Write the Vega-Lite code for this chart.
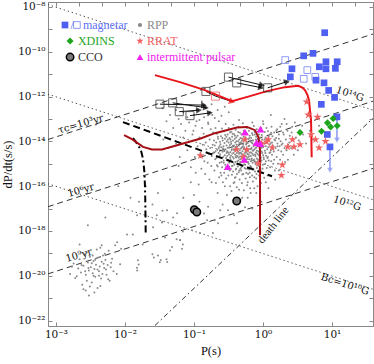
{
"$schema":"https://vega.github.io/schema/vega-lite/v6.json",
"width":325,"height":324,
"autosize":{"type":"none"},
"padding":{"left":48,"top":2,"right":1,"bottom":38},
"background":"white",
"config":{"view":{"stroke":"#888","strokeWidth":1},"font":"Liberation Serif",
 "axis":{"grid":false,"domainColor":"#888","tickColor":"#888","labelFont":"DejaVu Serif","labelFontSize":10.5,"labelColor":"#111","titleFont":"Liberation Serif","titleFontSize":12.5,"titleFontWeight":"normal","titleColor":"#111","tickSize":-4,"labelPadding":7}},
"datasets":{
"rpp":[
{"p":0.098,"d":3e-14},{"p":0.103,"d":2e-15},{"p":0.106,"d":4e-16},
{"p":0.109,"d":8e-14},{"p":0.113,"d":6e-15},{"p":0.117,"d":1.2e-16},
{"p":0.12,"d":1.5e-14},{"p":0.124,"d":3e-15},{"p":0.128,"d":6e-16},{"p":0.131,"d":4e-14},
{"p":0.134,"d":7e-15},{"p":0.138,"d":2.2e-14},{"p":0.141,"d":1.3e-15},{"p":0.145,"d":3.5e-16},{"p":0.148,"d":9e-15},
{"p":0.151,"d":4.5e-15},{"p":0.154,"d":1.8e-14},{"p":0.158,"d":1.1e-15},{"p":0.161,"d":6e-14},{"p":0.164,"d":2.8e-15},{"p":0.167,"d":2e-16},
{"p":0.169,"d":1.2e-14},{"p":0.172,"d":5e-15},{"p":0.175,"d":3.5e-14},{"p":0.178,"d":8e-16},{"p":0.181,"d":2.2e-15},{"p":0.184,"d":1.5e-13},{"p":0.187,"d":7e-15},
{"p":0.189,"d":2.5e-14},{"p":0.192,"d":3.2e-15},{"p":0.195,"d":1.1e-14},{"p":0.198,"d":5e-16},{"p":0.2,"d":6.5e-15},{"p":0.203,"d":1.6e-15},{"p":0.205,"d":4e-14},{"p":0.208,"d":1.4e-16},{"p":0.21,"d":9e-15},
{"p":0.212,"d":1.8e-15},{"p":0.215,"d":2.2e-14},{"p":0.218,"d":4.2e-15},{"p":0.221,"d":7.5e-16},{"p":0.224,"d":1.3e-14},{"p":0.227,"d":3e-15},{"p":0.229,"d":8e-14},{"p":0.231,"d":2.5e-16},{"p":0.234,"d":6e-15},{"p":0.236,"d":1.1e-15},
{"p":0.238,"d":9.5e-15},{"p":0.24,"d":2.6e-15},{"p":0.243,"d":4e-16},{"p":0.246,"d":1.7e-14},{"p":0.248,"d":5.5e-15},{"p":0.251,"d":1.2e-15},{"p":0.254,"d":3.8e-14},{"p":0.256,"d":7e-16},{"p":0.259,"d":3.4e-15},{"p":0.261,"d":1.1e-14},{"p":0.263,"d":1.5e-16},{"p":0.265,"d":2e-15},
{"p":0.267,"d":6e-15},{"p":0.269,"d":1.4e-15},{"p":0.272,"d":2.8e-14},{"p":0.274,"d":4e-16},{"p":0.277,"d":8.5e-15},{"p":0.279,"d":2.4e-15},{"p":0.281,"d":1.3e-14},{"p":0.284,"d":9e-16},{"p":0.286,"d":4.5e-15},{"p":0.288,"d":6e-14},{"p":0.291,"d":1.8e-15},{"p":0.293,"d":2.2e-16},{"p":0.295,"d":1.6e-14},{"p":0.297,"d":3e-15},
{"p":0.299,"d":1e-14},{"p":0.302,"d":3.6e-15},{"p":0.304,"d":7e-16},{"p":0.307,"d":2e-14},{"p":0.309,"d":5.2e-15},{"p":0.312,"d":1.5e-15},{"p":0.315,"d":3e-16},{"p":0.317,"d":9e-15},{"p":0.319,"d":4e-14},{"p":0.322,"d":2.6e-15},{"p":0.324,"d":1.1e-15},{"p":0.327,"d":1.4e-14},{"p":0.329,"d":5e-16},{"p":0.331,"d":6.8e-15},{"p":0.333,"d":1.9e-15},{"p":0.334,"d":1e-16},
{"p":0.336,"d":3.3e-15},{"p":0.338,"d":1.2e-14},{"p":0.341,"d":6e-16},{"p":0.343,"d":2.3e-15},{"p":0.346,"d":7.8e-15},{"p":0.348,"d":2.7e-14},{"p":0.35,"d":1.3e-15},{"p":0.353,"d":4.4e-15},{"p":0.355,"d":3.2e-16},{"p":0.357,"d":1.6e-14},{"p":0.36,"d":8e-16},{"p":0.362,"d":5.7e-15},{"p":0.365,"d":2e-15},{"p":0.367,"d":1.1e-14},{"p":0.369,"d":4.5e-16},{"p":0.371,"d":3e-15},{"p":0.373,"d":5.5e-14},{"p":0.375,"d":1.4e-16},
{"p":0.377,"d":1.7e-15},{"p":0.379,"d":6.5e-15},{"p":0.382,"d":2.1e-14},{"p":0.384,"d":9e-16},{"p":0.387,"d":3.9e-15},{"p":0.389,"d":1.3e-14},{"p":0.392,"d":2.4e-16},{"p":0.394,"d":2.6e-15},{"p":0.397,"d":8.8e-15},{"p":0.399,"d":1.2e-15},{"p":0.402,"d":3.3e-14},{"p":0.404,"d":5.5e-16},{"p":0.407,"d":4.8e-15},{"p":0.409,"d":1.5e-14},{"p":0.412,"d":1.9e-15},{"p":0.414,"d":7e-15},{"p":0.417,"d":9e-17},{"p":0.419,"d":3.5e-16},{"p":0.421,"d":1e-15},
{"p":0.423,"d":5.8e-15},{"p":0.426,"d":2.2e-15},{"p":0.428,"d":1.8e-14},{"p":0.431,"d":7.5e-16},{"p":0.434,"d":3.4e-15},{"p":0.437,"d":1e-14},{"p":0.439,"d":1.4e-15},{"p":0.442,"d":4.5e-14},{"p":0.445,"d":4.2e-16},{"p":0.447,"d":6.3e-15},{"p":0.45,"d":2.8e-15},{"p":0.453,"d":1.2e-14},{"p":0.455,"d":9.5e-16},{"p":0.458,"d":2e-16},{"p":0.461,"d":4e-15},{"p":0.463,"d":2.4e-14},{"p":0.466,"d":1.6e-15},{"p":0.468,"d":7.8e-15},{"p":0.47,"d":6e-16},{"p":0.472,"d":2.5e-17},
{"p":0.474,"d":1.1e-15},{"p":0.477,"d":3.1e-15},{"p":0.48,"d":9.2e-15},{"p":0.483,"d":5e-16},{"p":0.486,"d":2.1e-14},{"p":0.489,"d":1.8e-15},{"p":0.492,"d":5.3e-15},{"p":0.495,"d":1.4e-16},{"p":0.498,"d":1.3e-14},{"p":0.501,"d":8e-16},{"p":0.504,"d":3.6e-15},{"p":0.507,"d":2.5e-15},{"p":0.51,"d":6.5e-14},{"p":0.513,"d":1.2e-15},{"p":0.516,"d":7e-15},{"p":0.519,"d":3.5e-16},{"p":0.522,"d":1.6e-14},{"p":0.525,"d":4.4e-15},{"p":0.528,"d":6.5e-17},{"p":0.53,"d":2e-15},
{"p":0.533,"d":5.5e-15},{"p":0.536,"d":1.5e-15},{"p":0.54,"d":1.1e-14},{"p":0.543,"d":6.5e-16},{"p":0.547,"d":3e-15},{"p":0.55,"d":2.5e-14},{"p":0.553,"d":9e-16},{"p":0.557,"d":4.2e-15},{"p":0.56,"d":2.2e-16},{"p":0.563,"d":1.5e-14},{"p":0.567,"d":2.1e-15},{"p":0.57,"d":7.2e-15},{"p":0.573,"d":4e-16},{"p":0.577,"d":3.3e-15},{"p":0.58,"d":1.2e-15},{"p":0.583,"d":9e-15},{"p":0.587,"d":4e-14},{"p":0.59,"d":1.1e-16},{"p":0.593,"d":2.7e-15},{"p":0.595,"d":6e-16},
{"p":0.598,"d":1.9e-15},{"p":0.602,"d":8.5e-15},{"p":0.606,"d":3.5e-16},{"p":0.61,"d":3.9e-15},{"p":0.614,"d":1.2e-14},{"p":0.618,"d":1e-15},{"p":0.622,"d":2.6e-15},{"p":0.626,"d":3e-14},{"p":0.63,"d":5.5e-16},{"p":0.634,"d":6.4e-15},{"p":0.638,"d":1.6e-15},{"p":0.642,"d":1.8e-14},{"p":0.646,"d":2.5e-16},{"p":0.65,"d":4.6e-15},{"p":0.654,"d":8e-16},{"p":0.658,"d":9.5e-15},{"p":0.662,"d":5e-17},{"p":0.665,"d":2.2e-15},{"p":0.667,"d":1.3e-15},
{"p":0.671,"d":3.2e-15},{"p":0.675,"d":1.4e-14},{"p":0.68,"d":7e-16},{"p":0.684,"d":5.2e-15},{"p":0.689,"d":1.7e-15},{"p":0.693,"d":2.3e-14},{"p":0.698,"d":3e-16},{"p":0.702,"d":8e-15},{"p":0.707,"d":1.1e-15},{"p":0.711,"d":3.8e-15},{"p":0.716,"d":1.6e-16},{"p":0.72,"d":1.1e-14},{"p":0.725,"d":2.4e-15},{"p":0.729,"d":5.5e-16},{"p":0.734,"d":6e-15},{"p":0.738,"d":4.8e-14},{"p":0.743,"d":1.5e-15},{"p":0.747,"d":8e-17},
{"p":0.752,"d":4.5e-15},{"p":0.757,"d":1.3e-15},{"p":0.762,"d":2e-14},{"p":0.767,"d":4.5e-16},{"p":0.772,"d":7e-15},{"p":0.777,"d":2.2e-15},{"p":0.782,"d":9.5e-16},{"p":0.787,"d":1.2e-14},{"p":0.792,"d":3.2e-15},{"p":0.797,"d":2.2e-16},{"p":0.802,"d":5.5e-15},{"p":0.807,"d":1.7e-15},{"p":0.812,"d":3.5e-14},{"p":0.817,"d":6.5e-16},{"p":0.822,"d":9e-15},{"p":0.828,"d":2.8e-15},{"p":0.834,"d":1e-16},
{"p":0.843,"d":1.6e-15},{"p":0.849,"d":6e-15},{"p":0.855,"d":2.7e-14},{"p":0.861,"d":8e-16},{"p":0.867,"d":3.5e-15},{"p":0.873,"d":1.1e-14},{"p":0.879,"d":3e-16},{"p":0.885,"d":2.3e-15},{"p":0.891,"d":7.5e-15},{"p":0.897,"d":1.2e-15},{"p":0.903,"d":4.4e-15},{"p":0.909,"d":1.5e-14},{"p":0.915,"d":5e-16},{"p":0.922,"d":2e-15},{"p":0.93,"d":1.4e-16},
{"p":0.945,"d":5e-15},{"p":0.952,"d":1.4e-15},{"p":0.96,"d":1.9e-14},{"p":0.968,"d":4e-16},{"p":0.976,"d":3e-15},{"p":0.985,"d":8.5e-15},{"p":0.994,"d":9e-16},{"p":1.003,"d":2.4e-15},{"p":1.012,"d":6e-14},{"p":1.021,"d":6e-15},{"p":1.03,"d":1.6e-15},{"p":1.04,"d":2.4e-16},{"p":1.05,"d":1.2e-14},
{"p":1.065,"d":3.8e-15},{"p":1.077,"d":1e-15},{"p":1.089,"d":1.5e-14},{"p":1.1,"d":6e-15},{"p":1.11,"d":2.3e-15},{"p":1.122,"d":4e-14},{"p":1.134,"d":6.5e-16},{"p":1.146,"d":8.5e-15},{"p":1.158,"d":1.8e-15},{"p":1.17,"d":3e-16},{"p":1.183,"d":2.8e-14},
{"p":1.195,"d":5.5e-15},{"p":1.21,"d":1.4e-15},{"p":1.225,"d":1.1e-14},{"p":1.24,"d":3e-15},{"p":1.255,"d":2e-14},{"p":1.27,"d":7e-16},{"p":1.285,"d":8e-15},{"p":1.3,"d":4e-15},{"p":1.315,"d":1.3e-15},{"p":1.33,"d":4.5e-14},
{"p":1.35,"d":2.5e-15},{"p":1.37,"d":1.7e-14},{"p":1.39,"d":6.5e-15},{"p":1.41,"d":1e-15},{"p":1.43,"d":3.5e-15},{"p":1.45,"d":2.5e-14},{"p":1.47,"d":1.2e-14},{"p":1.49,"d":5e-16},
{"p":1.52,"d":5e-15},{"p":1.55,"d":1.4e-14},{"p":1.58,"d":2e-15},{"p":1.6,"d":3.5e-14},{"p":1.62,"d":8e-15},{"p":1.65,"d":1e-15},{"p":1.67,"d":4e-15},
{"p":1.7,"d":2e-14},{"p":1.74,"d":6e-15},{"p":1.77,"d":1.5e-15},{"p":1.8,"d":1e-14},{"p":1.84,"d":3.5e-15},{"p":1.87,"d":6e-14},
{"p":1.92,"d":8e-15},{"p":1.96,"d":2.5e-15},{"p":2.0,"d":2e-14},{"p":2.05,"d":5e-15},{"p":2.09,"d":1.2e-15},
{"p":2.15,"d":1.2e-14},{"p":2.2,"d":4e-15},{"p":2.26,"d":3e-14},{"p":2.32,"d":7e-15},
{"p":2.45,"d":1.8e-14},{"p":2.55,"d":5e-15},{"p":2.65,"d":4.5e-14},
{"p":3.0,"d":1.5e-14},{"p":3.2,"d":4e-15},{"p":3.4,"d":3e-14},
{"p":3.8,"d":2e-14},{"p":4.2,"d":8e-15},{"p":4.8,"d":3e-14},{"p":5.3,"d":1.2e-14},{"p":6.5,"d":5e-14},
{"p":0.205,"d":3.6e-15},{"p":0.215,"d":8.5e-16},{"p":0.222,"d":1.6e-14},{"p":0.228,"d":5e-15},{"p":0.235,"d":2.2e-15},{"p":0.242,"d":7.5e-15},{"p":0.25,"d":3e-16},{"p":0.258,"d":1.4e-14},{"p":0.262,"d":4.8e-15},{"p":0.27,"d":1.1e-15},{"p":0.276,"d":3.8e-15},{"p":0.283,"d":1.9e-14},{"p":0.29,"d":7e-16},{"p":0.296,"d":6.5e-15},{"p":0.303,"d":2.2e-15},{"p":0.31,"d":1.2e-14},{"p":0.316,"d":3.2e-15},{"p":0.321,"d":7.5e-16},{"p":0.326,"d":5.5e-15},{"p":0.332,"d":2.5e-14},{"p":0.339,"d":1.6e-15},{"p":0.344,"d":9.5e-15},{"p":0.351,"d":4e-15},{"p":0.356,"d":8e-16},{"p":0.363,"d":2.2e-14},{"p":0.368,"d":6.3e-15},{"p":0.374,"d":1.1e-15},{"p":0.38,"d":4.2e-15},{"p":0.386,"d":1.5e-16},{"p":0.391,"d":1.8e-14},{"p":0.396,"d":5.6e-15},{"p":0.403,"d":2e-15},{"p":0.408,"d":6e-16},{"p":0.413,"d":1e-14},{"p":0.418,"d":3e-15},{"p":0.425,"d":1.3e-15},{"p":0.43,"d":4.6e-15},{"p":0.436,"d":2.6e-14},{"p":0.441,"d":7e-15},{"p":0.446,"d":1.9e-15},{"p":0.452,"d":5e-16},{"p":0.457,"d":8.5e-15},{"p":0.462,"d":3.1e-15},{"p":0.467,"d":1.2e-15},{"p":0.473,"d":1.4e-14},{"p":0.479,"d":4.8e-15},{"p":0.485,"d":7e-16},{"p":0.49,"d":2.7e-15},{"p":0.497,"d":1.1e-14},{"p":0.503,"d":3.3e-16},{"p":0.509,"d":5.8e-15},{"p":0.515,"d":1.9e-15},{"p":0.52,"d":8e-15},{"p":0.527,"d":3e-14},{"p":0.534,"d":9.5e-16},{"p":0.541,"d":4.6e-15},{"p":0.548,"d":2.4e-15},{"p":0.555,"d":1.3e-14},{"p":0.562,"d":6e-16},{"p":0.569,"d":3.6e-15},{"p":0.576,"d":8.5e-15},{"p":0.584,"d":1.6e-15},{"p":0.591,"d":2.2e-14},{"p":0.6,"d":4.6e-15},{"p":0.608,"d":1.2e-15},{"p":0.616,"d":6e-15},{"p":0.624,"d":2.1e-15},{"p":0.632,"d":1.4e-14},{"p":0.64,"d":4e-16},{"p":0.648,"d":3.2e-15},{"p":0.656,"d":1.1e-14},{"p":0.664,"d":7e-16},{"p":0.673,"d":4.6e-15},{"p":0.682,"d":1.5e-15},{"p":0.691,"d":9e-15},{"p":0.7,"d":2.8e-15},{"p":0.709,"d":1.9e-14},{"p":0.718,"d":6e-16},{"p":0.727,"d":4e-15},{"p":0.737,"d":1.4e-15},{"p":0.746,"d":7.5e-15},{"p":0.756,"d":2.6e-14},{"p":0.766,"d":2.6e-15},{"p":0.776,"d":1.1e-15},{"p":0.786,"d":5e-15},{"p":0.796,"d":1.6e-14},{"p":0.806,"d":3.5e-16},{"p":0.817,"d":3.8e-15},{"p":0.828,"d":1.2e-14},{"p":0.839,"d":1.3e-15},{"p":0.85,"d":6.5e-15},{"p":0.862,"d":2.5e-15},{"p":0.875,"d":2e-14},{"p":0.887,"d":5.5e-16},{"p":0.9,"d":3.2e-15},{"p":0.913,"d":9.5e-15},{"p":0.926,"d":1.8e-15},{"p":0.94,"d":4e-14},{"p":0.955,"d":3.5e-15},{"p":0.97,"d":1.2e-14},{"p":0.985,"d":6e-16},{"p":1.0,"d":5.5e-15},{"p":1.02,"d":1.9e-15},{"p":1.04,"d":8e-15},{"p":1.06,"d":2.6e-14},{"p":1.08,"d":3e-15},{"p":1.1,"d":1.3e-15},{"p":1.12,"d":1.1e-14},{"p":1.15,"d":4.5e-15},{"p":1.18,"d":2e-15},{"p":1.21,"d":1.6e-14},{"p":1.24,"d":7e-15},{"p":1.28,"d":3.3e-15},{"p":1.31,"d":2.4e-14},{"p":1.35,"d":9e-15},{"p":1.4,"d":4.5e-15},{"p":1.45,"d":1.5e-15},{"p":1.5,"d":1.1e-14},{"p":1.56,"d":3e-14},{"p":1.62,"d":6e-15},{"p":1.7,"d":1.3e-14},{"p":1.78,"d":4.5e-14},{"p":1.86,"d":7e-15},{"p":1.95,"d":2.5e-14},{"p":2.05,"d":1e-13},{"p":2.2,"d":6e-14},{"p":2.4,"d":9e-15},{"p":2.6,"d":2.5e-14},{"p":2.9,"d":7e-14},{"p":3.3,"d":1.1e-14},{"p":3.7,"d":5e-14},{"p":1.3,"d":1.5e-13},{"p":1.0,"d":8e-14},{"p":0.7,"d":7e-14},{"p":0.45,"d":9e-14},{"p":0.6,"d":1.5e-16},{"p":0.8,"d":5e-17},{"p":1.1,"d":1.5e-16},{"p":0.35,"d":6e-17},{"p":0.5,"d":3e-17},{"p":0.95,"d":2e-17},{"p":0.4,"d":2.5e-16},{"p":0.65,"d":8e-17},{"p":0.28,"d":1e-16},{"p":0.18,"d":1.5e-16},{"p":0.75,"d":2.5e-16},{"p":1.3,"d":3e-16},{"p":1.7,"d":5e-16},{"p":2.3,"d":1.5e-15},{"p":2.8,"d":2.5e-15},{"p":0.22,"d":5e-17},
{"p":0.035,"d":3e-13},{"p":0.04,"d":8e-14},{"p":0.045,"d":1.5e-13},{"p":0.05,"d":4e-14},{"p":0.055,"d":2.5e-13},{"p":0.06,"d":1e-13},{"p":0.065,"d":6e-14},{"p":0.07,"d":2e-13},{"p":0.075,"d":3e-14},{"p":0.08,"d":1.2e-13},{"p":0.085,"d":7e-14},{"p":0.09,"d":4e-13},{"p":0.095,"d":2e-14},{"p":0.1,"d":1.5e-13},{"p":0.105,"d":5e-14},{"p":0.11,"d":2.5e-13},{"p":0.12,"d":9e-14},{"p":0.13,"d":6e-13},{"p":0.14,"d":1.2e-13},{"p":0.15,"d":3e-13},{"p":0.16,"d":7e-14},{"p":0.17,"d":2e-13},{"p":0.18,"d":4.5e-13},{"p":0.2,"d":1.1e-13},{"p":0.22,"d":2.5e-13},{"p":0.25,"d":1.4e-13},{"p":0.28,"d":3.5e-13},{"p":0.32,"d":2e-13},{"p":0.036,"d":1.2e-14},{"p":0.042,"d":5e-15},{"p":0.055,"d":8e-15},{"p":0.062,"d":2e-15},{"p":0.07,"d":1.5e-14},{"p":0.08,"d":4e-15},{"p":0.09,"d":7e-16},
{"p":0.0052,"d":4e-18},{"p":0.0029,"d":1.8e-18},{"p":0.0022,"d":2.5e-19},{"p":0.0046,"d":2.3e-19},{"p":0.0077,"d":3.1e-19},{"p":0.0088,"d":1.6e-19},{"p":0.0107,"d":7e-19},{"p":0.013,"d":7e-19},{"p":0.0154,"d":4.9e-20},{"p":0.0158,"d":3.2e-20},{"p":0.015,"d":1.7e-20},{"p":0.029,"d":5e-18},{"p":0.035,"d":2.6e-18},{"p":0.018,"d":2.5e-19},{"p":0.025,"d":9e-20},{"p":0.03,"d":8e-20},{"p":0.032,"d":4e-20},{"p":0.04,"d":5.5e-20},{"p":0.048,"d":1.9e-19},{"p":0.056,"d":4.3e-19},{"p":0.063,"d":3.9e-19},{"p":0.069,"d":2.5e-19},{"p":0.067,"d":1.6e-19},{"p":0.041,"d":4.1e-20},{"p":0.015,"d":5e-18},
{"p":0.0255,"d":1.45e-18},{"p":0.0344,"d":2.4e-18},{"p":0.0406,"d":8.3e-18},{"p":0.0568,"d":6.1e-18},{"p":0.038,"d":5.1e-19},{"p":0.045,"d":1.35e-19},{"p":0.0627,"d":3.8e-19},{"p":0.0262,"d":6.6e-20},{"p":0.033,"d":5e-20},{"p":0.0149,"d":2.3e-20},{"p":0.0935,"d":1.07e-18},{"p":0.122,"d":8e-19},{"p":0.188,"d":8e-19},{"p":0.223,"d":2.2e-18},{"p":0.311,"d":8.3e-18},{"p":0.42,"d":2.2e-18},{"p":0.548,"d":1.15e-17},{"p":0.24,"d":8.3e-18},{"p":0.155,"d":3e-18},{"p":0.069,"d":9.5e-19},
{"p":0.008,"d":1e-16},{"p":0.012,"d":3e-17},{"p":0.02,"d":1e-16},{"p":0.03,"d":5e-17},{"p":0.045,"d":2e-16},{"p":0.06,"d":8e-16},{"p":0.07,"d":3e-17},{"p":0.09,"d":1.5e-16},{"p":0.1,"d":4e-17},{"p":0.12,"d":2e-17},{"p":0.14,"d":6e-18},{"p":0.16,"d":1.2e-17},{"p":0.2,"d":3e-18},{"p":0.025,"d":1.5e-17},{"p":0.035,"d":8e-18},{"p":0.016,"d":2e-17},{"p":0.05,"d":4e-18},{"p":0.38,"d":5e-18},{"p":0.6,"d":3e-17},{"p":0.7,"d":1e-17},{"p":0.9,"d":4e-17},{"p":1.2,"d":8e-17},{"p":1.5,"d":2e-16},{"p":0.45,"d":7e-17},{"p":0.3,"d":4e-17},{"p":0.26,"d":1.5e-17},
{"p":0.0016,"d":1.2e-20},{"p":0.0018,"d":3.5e-20},{"p":0.0019,"d":8e-21},{"p":0.0021,"d":2.1e-20},{"p":0.0022,"d":5.5e-20},{"p":0.0023,"d":1.4e-20},{"p":0.0024,"d":4e-21},{"p":0.0025,"d":2.8e-20},{"p":0.0026,"d":9e-20},{"p":0.0027,"d":1.1e-20},{"p":0.0028,"d":6e-21},{"p":0.0029,"d":3.9e-20},{"p":0.003,"d":1.7e-20},{"p":0.0031,"d":7e-20},{"p":0.0032,"d":2.4e-20},{"p":0.0033,"d":5e-21},{"p":0.0034,"d":1.3e-20},{"p":0.0035,"d":4.6e-20},{"p":0.0036,"d":2e-20},{"p":0.0037,"d":9e-21},{"p":0.0038,"d":3.1e-20},{"p":0.0039,"d":1.5e-19},{"p":0.004,"d":1.9e-20},{"p":0.0041,"d":6.5e-20},{"p":0.0042,"d":1e-20},{"p":0.0043,"d":2.6e-20},{"p":0.0044,"d":3.5e-21},{"p":0.0046,"d":4.2e-20},{"p":0.0047,"d":1.2e-20},{"p":0.0048,"d":8e-20},{"p":0.005,"d":2.2e-20},{"p":0.0052,"d":5e-20},{"p":0.0054,"d":1.1e-20},{"p":0.0056,"d":3e-20},{"p":0.0058,"d":1.3e-19},{"p":0.006,"d":6e-21},{"p":0.0062,"d":2.4e-20},{"p":0.0065,"d":5.8e-20},{"p":0.0068,"d":1.6e-20},{"p":0.0072,"d":2.3e-19},{"p":0.002,"d":9.5e-21},{"p":0.00235,"d":3e-20},{"p":0.00265,"d":1.6e-20},{"p":0.00295,"d":2.2e-20},{"p":0.0031,"d":3.3e-21},{"p":0.0033,"d":3.6e-20},{"p":0.0035,"d":1e-20},{"p":0.0037,"d":5.2e-20},{"p":0.004,"d":2.8e-21},{"p":0.0042,"d":1.6e-20},{"p":0.0045,"d":7.5e-21},{"p":0.0049,"d":3.4e-20},{"p":0.0053,"d":1.9e-20},{"p":0.0057,"d":7e-21},{"p":0.0017,"d":2.5e-20},{"p":0.0028,"d":1.1e-19},{"p":0.0034,"d":8e-20},{"p":0.0044,"d":1.8e-19},{"p":0.0051,"d":9.5e-20},{"p":0.0063,"d":3.8e-20},{"p":0.0076,"d":1.2e-20},{"p":0.0085,"d":3.3e-20},{"p":0.0025,"d":2.5e-21},{"p":0.003,"d":1.3e-21},{"p":0.0036,"d":1.8e-21},{"p":0.0027,"d":2.2e-21}
],
"mag":[{"p":7.84,"d":7.1e-10},{"p":3.89,"d":6.6e-11},{"p":5.31,"d":8.5e-11},{"p":2.63,"d":1.74e-11},{"p":2.49,"d":7.6e-12},{"p":6.55,"d":2.14e-11},{"p":8.18,"d":3.58e-11},{"p":11.9,"d":3.58e-11},{"p":8.18,"d":1.74e-11},{"p":11.2,"d":1.82e-11},{"p":5.86,"d":5.4e-12},{"p":7.66,"d":4.1e-12},{"p":8.95,"d":1.88e-12},{"p":10.9,"d":9.2e-13},{"p":7.0,"d":4.5e-13},{"p":11.8,"d":1.24e-13},{"p":8.55,"d":2.03e-14},{"p":9.35,"d":5.65e-15}],
"magopen":[{"p":2.1,"d":4.27e-11},{"p":4.39,"d":1.52e-11},{"p":3.89,"d":6.2e-12},{"p":5.73,"d":7.6e-12}],
"xdins":[{"p":3.44,"d":2.49e-14},{"p":7.05,"d":2.84e-14},{"p":8.61,"d":6.7e-14},{"p":10.4,"d":1.05e-13},{"p":9.57,"d":4.4e-14},{"p":11.9,"d":5.0e-14}],
"cco":[{"p":0.101,"d":8.97e-18},{"p":0.11,"d":7.0e-18},{"p":0.416,"d":2.17e-17}],
"inter":[{"p":0.548,"d":2.57e-14},{"p":0.92,"d":3.5e-14},{"p":0.805,"d":8.7e-15},{"p":0.91,"d":7.9e-15},{"p":0.536,"d":1.55e-15},{"p":0.308,"d":7.4e-16}],
"rrat":[{"p":0.124,"d":2.29e-15},{"p":0.413,"d":4.3e-15},{"p":0.548,"d":1.21e-14},{"p":0.581,"d":4.3e-15},{"p":0.517,"d":2.02e-15},{"p":0.855,"d":1.02e-15},{"p":0.957,"d":8.0e-15},{"p":1.13,"d":9.5e-15},{"p":1.19,"d":1.21e-14},{"p":1.36,"d":5.3e-15},{"p":1.91,"d":8.9e-16},{"p":1.85,"d":3.07e-16},{"p":2.28,"d":5.65e-15},{"p":2.68,"d":1.21e-14},{"p":2.81,"d":5.65e-15},{"p":3.44,"d":7.2e-15},{"p":4.3,"d":5.8e-13},{"p":4.54,"d":1.52e-13},{"p":6.17,"d":1.2e-13},{"p":4.97,"d":2.03e-14},{"p":5.77,"d":1.21e-14},{"p":8.05,"d":9.96e-15},{"p":6.49,"d":5.2e-15}],
"trk":[{"p":0.0321,"d":4.59e-13},{"p":0.0491,"d":5.25e-13},{"p":0.0612,"d":2.12e-13},{"p":0.0875,"d":1.41e-13},{"p":0.149,"d":1.7e-12},{"p":0.316,"d":7.4e-12},{"p":0.416,"d":4.1e-12},{"p":1.17,"d":2.46e-12}],
"trkred":[{"p":0.205,"d":1.05e-12}],
"heads":[{"p":0.1396,"d":4.14e-13,"dir":1},{"p":0.149,"d":3.2e-13,"dir":8},{"p":0.118,"d":2.47e-13,"dir":-4},{"p":0.1706,"d":1.87e-13,"dir":-8},{"p":0.968,"d":3.25e-12,"dir":13},{"p":0.935,"d":2.51e-12,"dir":11},{"p":2.23,"d":4.65e-12,"dir":-18}],
"redhead":[{"p":0.356,"d":5.94e-13,"dir":18}],
"bluearr":[{"id":"u1","p":11.8,"d":1.24e-13},{"id":"u1","p":11.8,"d":1.13e-14},{"id":"u2","p":9.35,"d":5.65e-15},{"id":"u2","p":9.35,"d":5.1e-16}],
"bluehead":[{"p":11.8,"d":1.13e-14},{"p":9.35,"d":5.1e-16}],
"arrows":[
{"id":"a1","i":0,"p":0.0321,"d":4.59e-13},{"id":"a1","i":1,"p":0.1396,"d":4.14e-13},
{"id":"a2","i":0,"p":0.0491,"d":5.25e-13},{"id":"a2","i":1,"p":0.149,"d":3.2e-13},
{"id":"a3","i":0,"p":0.0612,"d":2.12e-13},{"id":"a3","i":1,"p":0.118,"d":2.47e-13},
{"id":"a4","i":0,"p":0.0875,"d":1.41e-13},{"id":"a4","i":1,"p":0.1706,"d":1.87e-13},
{"id":"a5","i":0,"p":0.316,"d":7.4e-12},{"id":"a5","i":1,"p":0.968,"d":3.25e-12},
{"id":"a6","i":0,"p":0.416,"d":4.1e-12},{"id":"a6","i":1,"p":0.935,"d":2.51e-12},
{"id":"a7","i":0,"p":1.17,"d":2.46e-12},{"id":"a7","i":1,"p":2.23,"d":4.65e-12},
{"id":"a8","i":0,"p":0.149,"d":1.7e-12},{"id":"a8","i":1,"p":0.205,"d":1.05e-12},{"id":"a8","i":2,"p":0.356,"d":5.94e-13}],
"thin":[
{"kind":"dot","id":"B14","i":0,"p":7.6e-4,"d":1.286e-8},{"kind":"dot","id":"B14","i":1,"p":40,"d":2.44e-13},
{"kind":"dot","id":"B12","i":0,"p":7.6e-4,"d":1.286e-12},{"kind":"dot","id":"B12","i":1,"p":40,"d":2.44e-17},
{"kind":"dot","id":"B10","i":0,"p":7.6e-4,"d":1.286e-16},{"kind":"dot","id":"B10","i":1,"p":40,"d":2.44e-21},
{"kind":"dash","id":"t3","i":0,"p":7.6e-4,"d":1.2e-14},{"kind":"dash","id":"t3","i":1,"p":40,"d":6.34e-10},
{"kind":"dash","id":"t6","i":0,"p":7.6e-4,"d":1.2e-17},{"kind":"dash","id":"t6","i":1,"p":40,"d":6.34e-13},
{"kind":"dash","id":"t9","i":0,"p":7.6e-4,"d":1.2e-20},{"kind":"dash","id":"t9","i":1,"p":40,"d":6.34e-16},
{"kind":"dd","id":"death","i":0,"p":0.0272,"d":6.0e-23},{"kind":"dd","id":"death","i":1,"p":39.3,"d":1.09e-13}],
"thick":[
{"kind":"kdash","id":"k1","i":0,"p":0.00935,"d":7.2e-14},{"kind":"kdash","id":"k1","i":1,"p":1.35,"d":2.77e-16},
{"kind":"kdd","id":"k2","i":0,"p":0.01306,"d":1.38e-14},{"kind":"kdd","id":"k2","i":1,"p":0.01542,"d":6.7e-15},{"kind":"kdd","id":"k2","i":2,"p":0.01745,"d":2.95e-15},{"kind":"kdd","id":"k2","i":3,"p":0.01854,"d":1.05e-15},{"kind":"kdd","id":"k2","i":4,"p":0.01918,"d":3.07e-16},{"kind":"kdd","id":"k2","i":5,"p":0.01968,"d":2.34e-17},{"kind":"kdd","id":"k2","i":6,"p":0.01995,"d":8.6e-19},
{"kind":"red","id":"r1","i":0,"p":0.0272,"d":9.1e-12},{"kind":"red","id":"r1","i":1,"p":0.0627,"d":4.43e-12},{"kind":"red","id":"r1","i":2,"p":0.144,"d":1.94e-12},{"kind":"red","id":"r1","i":3,"p":0.356,"d":6.25e-13},{"kind":"red","id":"r1","i":4,"p":0.648,"d":1.05e-12},{"kind":"red","id":"r1","i":5,"p":1.143,"d":1.75e-12},{"kind":"red","id":"r1","i":6,"p":2.08,"d":2.64e-12},{"kind":"red","id":"r1","i":7,"p":3.22,"d":3.02e-12},{"kind":"red","id":"r1","i":8,"p":3.67,"d":2.59e-12},{"kind":"red","id":"r1","i":9,"p":4.06,"d":1.94e-12},{"kind":"red","id":"r1","i":10,"p":4.42,"d":1.16e-12},{"kind":"red","id":"r1","i":11,"p":4.64,"d":6.93e-13},{"kind":"red","id":"r1","i":12,"p":4.97,"d":8.8e-14},{"kind":"red","id":"r1","i":13,"p":5.08,"d":1.96e-15},
{"kind":"dred","id":"r2","i":0,"p":0.00969,"d":1.88e-14},{"kind":"dred","id":"r2","i":1,"p":0.01262,"d":1.25e-14},{"kind":"dred","id":"r2","i":2,"p":0.01824,"d":5.65e-15},{"kind":"dred","id":"r2","i":3,"p":0.0246,"d":4.33e-15},{"kind":"dred","id":"r2","i":4,"p":0.0344,"d":4.33e-15},{"kind":"dred","id":"r2","i":5,"p":0.0568,"d":6.73e-15},{"kind":"dred","id":"r2","i":6,"p":0.122,"d":1.31e-14},{"kind":"dred","id":"r2","i":7,"p":0.201,"d":2.32e-14},{"kind":"dred","id":"r2","i":8,"p":0.42,"d":4.17e-14},{"kind":"dred","id":"r2","i":9,"p":0.586,"d":4.43e-14},{"kind":"dred","id":"r2","i":10,"p":0.766,"d":3.16e-14},{"kind":"dred","id":"r2","i":11,"p":0.861,"d":1.53e-14},{"kind":"dred","id":"r2","i":12,"p":0.906,"d":4.02e-15},{"kind":"dred","id":"r2","i":13,"p":0.906,"d":6.36e-19}],
"leg":[{"cls":"magnetar","p":1.35e-3,"d":1.57e-9},{"cls":"XDINS","p":1.6e-3,"d":3.01e-10},{"cls":"CCO","p":1.6e-3,"d":5.8e-11},{"cls":"RPP","p":0.01648,"d":1.57e-9},{"cls":"RRAT","p":0.01648,"d":3.01e-10},{"cls":"intermittent pulsar","p":0.01648,"d":5.8e-11}],
"legopen":[{"p":2.01e-3,"d":1.57e-9}],
"legt":[{"cls":"slash","t":"/","p":1.62e-3,"d":1.57e-9},{"cls":"magnetar","t":"magnetar","p":2.46e-3,"d":1.57e-9},{"cls":"XDINS","t":"XDINS","p":2.08e-3,"d":3.01e-10},{"cls":"CCO","t":"CCO","p":2.08e-3,"d":5.8e-11},{"cls":"RPP","t":"RPP","p":0.0208,"d":1.57e-9},{"cls":"RRAT","t":"RRAT","p":0.0208,"d":3.01e-10},{"cls":"intermittent pulsar","t":"intermittent pulsar","p":0.0208,"d":5.8e-11}],
"taulab":[{"t":"τc=10³yr","p":2.3e-3,"d":5.85e-14},{"t":"10⁶yr","p":2.3e-3,"d":6.55e-17},{"t":"10⁹yr","p":2.15e-3,"d":8.1e-20}],
"blab":[{"t":"10¹⁴G","p":18.2,"d":1.29e-12},{"t":"10¹²G","p":16.5,"d":1.71e-17},{"t":"Bc=10¹⁰G","p":15.4,"d":4.1e-21}],
"dlab":[{"t":"death line","p":1.42,"d":1.78e-18}]
},
"encoding":{
 "x":{"field":"p","type":"quantitative","scale":{"type":"log","domain":[7.66e-4,39.3],"nice":false,"zero":false},"axis":null},
 "y":{"field":"d","type":"quantitative","scale":{"type":"log","domain":[5.7e-23,1.67e-8],"nice":false,"zero":false},"axis":null}
},
"layer":[
 {"data":{"name":"thin"},"transform":[{"filter":"datum.kind=='dot'"}],"mark":{"type":"line","clip":true,"color":"#333","strokeWidth":1,"strokeDash":[1.2,3]},
  "encoding":{"detail":{"field":"id"},"order":{"field":"i","type":"quantitative"},
   "x":{"field":"p","type":"quantitative","scale":{"type":"log","domain":[7.66e-4,39.3],"nice":false,"zero":false},"axis":{"orient":"top","labels":false,"title":null,"values":[0.001,0.002154,0.004642,0.01,0.02154,0.04642,0.1,0.2154,0.4642,1,2.154,4.642,10,21.54]}},
   "y":{"field":"d","type":"quantitative","scale":{"type":"log","domain":[5.7e-23,1.67e-8],"nice":false,"zero":false},"axis":{"orient":"right","labels":false,"title":null,"values":[1e-22,1e-21,1e-20,1e-19,1e-18,1e-17,1e-16,1e-15,1e-14,1e-13,1e-12,1e-11,1e-10,1e-9,1e-8]}}}},
 {"data":{"name":"thin"},"transform":[{"filter":"datum.kind=='dash'"}],"mark":{"type":"line","clip":true,"color":"#333","strokeWidth":1,"strokeDash":[6,4]},
  "encoding":{"detail":{"field":"id"},"order":{"field":"i","type":"quantitative"}}},
 {"data":{"name":"thin"},"transform":[{"filter":"datum.kind=='dd'"}],"mark":{"type":"line","clip":true,"color":"#333","strokeWidth":1,"strokeDash":[5,3,1.5,3]},
  "encoding":{"detail":{"field":"id"},"order":{"field":"i","type":"quantitative"}}},
 {"data":{"name":"rpp"},"mark":{"type":"point","filled":true,"shape":"circle","size":4,"color":"#8a8a8a","opacity":1},
  "encoding":{
   "x":{"field":"p","type":"quantitative","scale":{"type":"log","domain":[7.66e-4,39.3],"nice":false,"zero":false},
    "axis":{"orient":"bottom","title":"P(s)","titlePadding":5,"titleFontWeight":"normal","values":[0.001,0.01,0.1,1,10],
     "labelExpr":"datum.value<0.005?'10⁻³':datum.value<0.05?'10⁻²':datum.value<0.5?'10⁻¹':datum.value<5?'10⁰':'10¹'"}},
   "y":{"field":"d","type":"quantitative","scale":{"type":"log","domain":[5.7e-23,1.67e-8],"nice":false,"zero":false},
    "axis":{"orient":"left","title":"dP/dt(s/s)","titlePadding":3,"titleFontWeight":"normal",
     "values":[1e-22,1e-21,1e-20,1e-19,1e-18,1e-17,1e-16,1e-15,1e-14,1e-13,1e-12,1e-11,1e-10,1e-9,1e-8],
     "labelExpr":"datum.value<3e-22?'10⁻²²':datum.value<3e-21?'':datum.value<3e-20?'10⁻²⁰':datum.value<3e-19?'':datum.value<3e-18?'10⁻¹⁸':datum.value<3e-17?'':datum.value<3e-16?'10⁻¹⁶':datum.value<3e-15?'':datum.value<3e-14?'10⁻¹⁴':datum.value<3e-13?'':datum.value<3e-12?'10⁻¹²':datum.value<3e-11?'':datum.value<3e-10?'10⁻¹⁰':datum.value<3e-9?'':'10⁻⁸'"}}}},
 {"data":{"name":"thick"},"transform":[{"filter":"datum.kind=='kdash'"}],"mark":{"type":"line","clip":true,"color":"#000","strokeWidth":2,"strokeDash":[7,4]},
  "encoding":{"detail":{"field":"id"},"order":{"field":"i","type":"quantitative"}}},
 {"data":{"name":"thick"},"transform":[{"filter":"datum.kind=='kdd'"}],"mark":{"type":"line","clip":true,"color":"#000","strokeWidth":2,"strokeDash":[7,3,2,3],"interpolate":"monotone"},
  "encoding":{"detail":{"field":"id"},"order":{"field":"i","type":"quantitative"}}},
 {"data":{"name":"thick"},"transform":[{"filter":"datum.kind=='dred'"}],"mark":{"type":"line","clip":true,"color":"#a50f15","strokeWidth":2},
  "encoding":{"detail":{"field":"id"},"order":{"field":"i","type":"quantitative"}}},
 {"data":{"name":"arrows"},"mark":{"type":"line","color":"#111","strokeWidth":1},
  "encoding":{"detail":{"field":"id"},"order":{"field":"i","type":"quantitative"}}},
 {"data":{"name":"heads"},"mark":{"type":"point","shape":"triangle-right","filled":true,"color":"#000","size":45},
  "encoding":{"angle":{"field":"dir","type":"quantitative","scale":null}}},
 {"data":{"name":"thick"},"transform":[{"filter":"datum.kind=='red'"}],"mark":{"type":"line","clip":true,"color":"#e8141a","strokeWidth":2},
  "encoding":{"detail":{"field":"id"},"order":{"field":"i","type":"quantitative"}}},
 {"data":{"name":"redhead"},"mark":{"type":"point","shape":"triangle-right","filled":true,"color":"#e8141a","size":50},
  "encoding":{"angle":{"field":"dir","type":"quantitative","scale":null}}},
 {"data":{"name":"trk"},"mark":{"type":"point","shape":"square","filled":false,"color":"#222","strokeWidth":1,"size":65}},
 {"data":{"name":"trkred"},"mark":{"type":"point","shape":"square","filled":false,"color":"#f05050","strokeWidth":1,"size":65}},
 {"data":{"name":"bluearr"},"mark":{"type":"line","color":"#8b97f2","strokeWidth":1.5},
  "encoding":{"detail":{"field":"id"}}},
 {"data":{"name":"bluehead"},"mark":{"type":"point","shape":"triangle-down","filled":true,"color":"#8b97f2","size":35}},
 {"data":{"name":"mag"},"mark":{"type":"point","shape":"square","filled":true,"color":"#4f5ff2","opacity":1,"size":45}},
 {"data":{"name":"magopen"},"mark":{"type":"point","shape":"square","filled":false,"color":"#6070f2","strokeWidth":1,"size":45}},
 {"data":{"name":"xdins"},"mark":{"type":"point","shape":"diamond","filled":true,"color":"#1ea51e","opacity":1,"size":50}},
 {"data":{"name":"rrat"},"mark":{"type":"point","shape":"M0,-1L0.2245,-0.309L0.951,-0.309L0.363,0.118L0.588,0.809L0,0.382L-0.588,0.809L-0.363,0.118L-0.951,-0.309L-0.2245,-0.309Z","filled":true,"color":"#f06262","opacity":1,"size":75}},
 {"data":{"name":"inter"},"mark":{"type":"point","shape":"triangle-up","filled":true,"color":"#f020f0","opacity":1,"size":60}},
 {"data":{"name":"cco"},"mark":{"type":"point","shape":"circle","filled":true,"fill":"#7a7a7a","stroke":"#000","strokeWidth":1.5,"opacity":1,"size":55}},
 {"data":{"name":"leg"},"transform":[{"filter":"datum.cls=='magnetar'"}],"mark":{"type":"point","shape":"square","filled":true,"color":"#4f5ff2","opacity":1,"size":45}},
 {"data":{"name":"legopen"},"mark":{"type":"point","shape":"square","filled":false,"color":"#6070f2","strokeWidth":1,"size":45}},
 {"data":{"name":"leg"},"transform":[{"filter":"datum.cls=='XDINS'"}],"mark":{"type":"point","shape":"diamond","filled":true,"color":"#1ea51e","opacity":1,"size":50}},
 {"data":{"name":"leg"},"transform":[{"filter":"datum.cls=='CCO'"}],"mark":{"type":"point","shape":"circle","filled":true,"fill":"#7a7a7a","stroke":"#000","strokeWidth":1.5,"opacity":1,"size":55}},
 {"data":{"name":"leg"},"transform":[{"filter":"datum.cls=='RPP'"}],"mark":{"type":"point","shape":"circle","filled":true,"color":"#8a8a8a","opacity":1,"size":18}},
 {"data":{"name":"leg"},"transform":[{"filter":"datum.cls=='RRAT'"}],"mark":{"type":"point","shape":"M0,-1L0.2245,-0.309L0.951,-0.309L0.363,0.118L0.588,0.809L0,0.382L-0.588,0.809L-0.363,0.118L-0.951,-0.309L-0.2245,-0.309Z","filled":true,"color":"#f06262","opacity":1,"size":60}},
 {"data":{"name":"leg"},"transform":[{"filter":"datum.cls=='intermittent pulsar'"}],"mark":{"type":"point","shape":"triangle-up","filled":true,"color":"#f020f0","opacity":1,"size":45}},
 {"data":{"name":"legt"},"mark":{"type":"text","align":"left","baseline":"middle","font":"Liberation Serif","fontSize":12},
  "encoding":{"text":{"field":"t"},"color":{"field":"cls","type":"nominal","legend":null,
   "scale":{"domain":["slash","magnetar","XDINS","CCO","RPP","RRAT","intermittent pulsar"],"range":["#6070f2","#6070f2","#1ea51e","#333333","#8a8a8a","#f06262","#f020f0"]}}}},
 {"data":{"name":"taulab"},"mark":{"type":"text","align":"center","baseline":"middle","font":"DejaVu Serif","fontSize":10,"angle":344,"color":"#111"},
  "encoding":{"text":{"field":"t"}}},
 {"data":{"name":"blab"},"mark":{"type":"text","align":"center","baseline":"middle","font":"DejaVu Serif","fontSize":10,"angle":18,"color":"#111"},
  "encoding":{"text":{"field":"t"}}},
 {"data":{"name":"dlab"},"mark":{"type":"text","align":"center","baseline":"middle","font":"Liberation Serif","fontSize":11,"angle":308,"color":"#111"},
  "encoding":{"text":{"field":"t"}}}
],
"resolve":{"axis":{"x":"independent","y":"independent"}}
}
